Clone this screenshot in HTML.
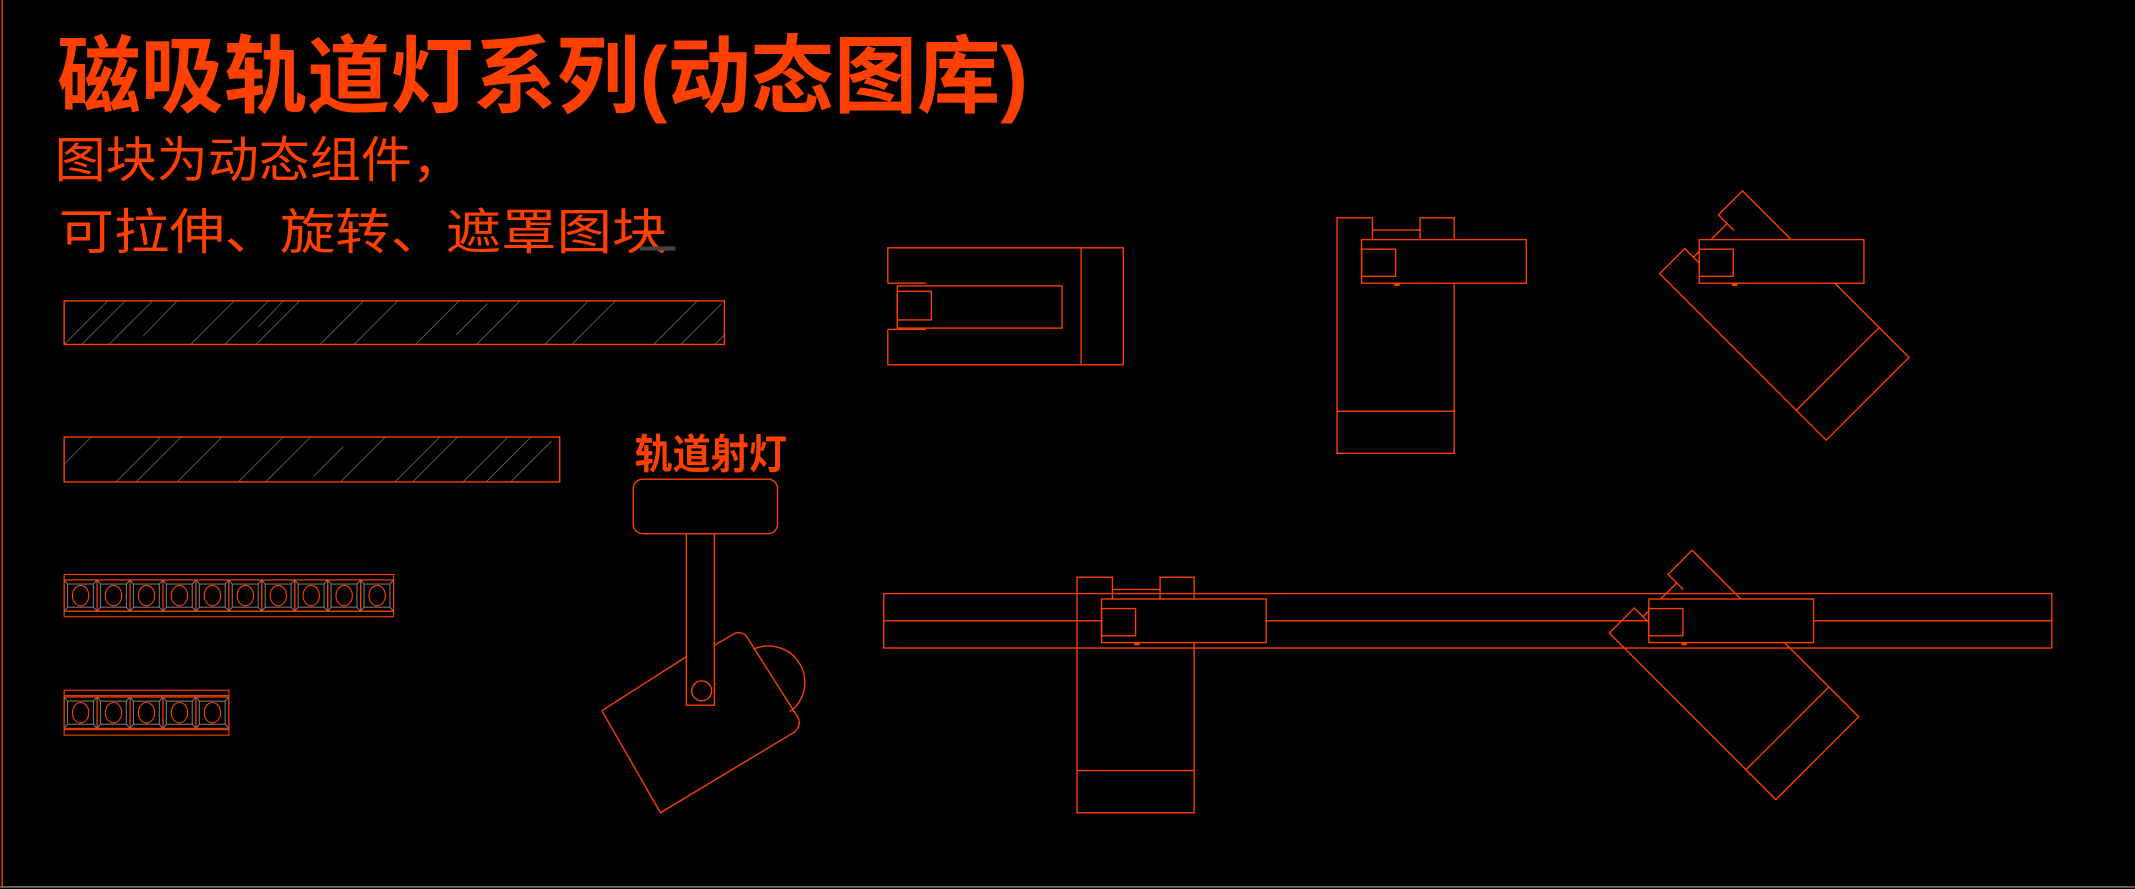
<!DOCTYPE html>
<html><head><meta charset="utf-8"><style>
html,body{margin:0;padding:0;background:#000;}
svg{display:block;}
text{font-family:"Liberation Sans","Noto Sans CJK SC","WenQuanYi Zen Hei",sans-serif;fill:#ff4000;}
</style></head><body>
<svg width="2135" height="889" viewBox="0 0 1568 653" xmlns="http://www.w3.org/2000/svg">
<defs>
<g id="vlight" fill="none" stroke="#ff4000" stroke-width="1">
  <path d="M982,333 V160 H1008 V169 H1043 V160 H1068 V333 Z"/>
  <line x1="982" y1="302" x2="1068" y2="302"/>
  <line x1="1008" y1="169" x2="1008" y2="176"/>
  <line x1="1043" y1="169" x2="1043" y2="176"/>
</g>
<g id="body" fill="#000" stroke="#ff4000" stroke-width="1">
  <rect x="1000" y="176" width="121" height="32"/>
  <rect x="1000" y="183" width="25" height="20" fill="none"/>
  <rect x="1024" y="208" width="4" height="2" fill="#ff4000" stroke="none"/>
</g>
</defs>
<rect width="1568" height="653" fill="#000"/>
<line x1="1.5" y1="0" x2="1.5" y2="652" stroke="#ff4000" stroke-width="1"/>
<line x1="0" y1="651.5" x2="1568" y2="651.5" stroke="#888" stroke-width="1"/>

<text x="42" y="78" font-size="62" font-weight="bold" textLength="713" lengthAdjust="spacingAndGlyphs">磁吸轨道灯系列(动态图库)</text>
<text x="40" y="130" font-size="36" textLength="300" lengthAdjust="spacingAndGlyphs">图块为动态组件，</text>
<text x="43" y="183" font-size="36" textLength="447" lengthAdjust="spacingAndGlyphs">可拉伸、旋转、遮罩图块</text>
<rect x="470" y="181" width="26" height="3" fill="#444"/>

<!-- hatched bars -->
<g stroke="#666" stroke-width="0.6">
  <line x1="47" y1="253" x2="79" y2="221"/><line x1="60" y1="253" x2="92" y2="221"/>
  <line x1="80" y1="253" x2="112" y2="221"/><line x1="105" y1="247" x2="130" y2="221"/>
  <line x1="140" y1="253" x2="172" y2="221"/><line x1="165" y1="253" x2="197" y2="221"/>
  <line x1="190" y1="240" x2="208" y2="221"/><line x1="188" y1="253" x2="220" y2="221"/>
  <line x1="235" y1="253" x2="267" y2="221"/><line x1="260" y1="253" x2="292" y2="221"/>
  <line x1="305" y1="253" x2="337" y2="221"/><line x1="335" y1="246" x2="358" y2="223"/>
  <line x1="350" y1="253" x2="382" y2="221"/><line x1="400" y1="253" x2="432" y2="221"/>
  <line x1="420" y1="253" x2="452" y2="221"/><line x1="480" y1="253" x2="512" y2="221"/>
  <line x1="500" y1="253" x2="530" y2="223"/><line x1="525" y1="253" x2="532" y2="246"/>
  <line x1="47" y1="341" x2="67" y2="321"/><line x1="85" y1="354" x2="118" y2="321"/>
  <line x1="100" y1="354" x2="133" y2="321"/><line x1="130" y1="354" x2="163" y2="321"/>
  <line x1="175" y1="354" x2="208" y2="321"/><line x1="195" y1="354" x2="228" y2="321"/>
  <line x1="230" y1="350" x2="252" y2="328"/><line x1="250" y1="354" x2="283" y2="321"/>
  <line x1="290" y1="354" x2="323" y2="321"/><line x1="303" y1="354" x2="336" y2="321"/>
  <line x1="340" y1="354" x2="373" y2="321"/><line x1="357" y1="354" x2="390" y2="321"/>
  <line x1="375" y1="354" x2="405" y2="324"/>
</g>
<rect x="47" y="221" width="485" height="32" fill="none" stroke="#ff4000"/>
<rect x="47" y="321" width="364" height="33" fill="none" stroke="#ff4000"/>

<!-- LED strips -->
<g fill="none" stroke-width="0.8">
  <rect x="47" y="422" width="242" height="31" stroke="#ff4000"/>
  <line x1="47" y1="426" x2="289" y2="426" stroke="#ff4000"/>
  <line x1="47" y1="449" x2="289" y2="449" stroke="#ff4000"/>
  <g id="cell">
    <rect x="47" y="426" width="24.2" height="23" stroke="#ff4000"/>
    <rect x="49.5" y="429" width="19" height="17" stroke="#777"/>
    <line x1="47" y1="426" x2="49.5" y2="429" stroke="#777"/><line x1="71.2" y1="426" x2="68.5" y2="429" stroke="#777"/>
    <line x1="47" y1="449" x2="49.5" y2="446" stroke="#777"/><line x1="71.2" y1="449" x2="68.5" y2="446" stroke="#777"/>
    <ellipse cx="59.1" cy="437.5" rx="6" ry="7.5" stroke="#ff4000"/>
  </g>
  <use href="#cell" x="24.2"/><use href="#cell" x="48.4"/><use href="#cell" x="72.6"/><use href="#cell" x="96.8"/>
  <use href="#cell" x="121"/><use href="#cell" x="145.2"/><use href="#cell" x="169.4"/><use href="#cell" x="193.6"/><use href="#cell" x="217.8"/>
  <rect x="47" y="507" width="121" height="33" stroke="#ff4000"/>
  <line x1="47" y1="511" x2="168" y2="511" stroke="#ff4000"/>
  <line x1="47" y1="536" x2="168" y2="536" stroke="#ff4000"/>
  <use href="#cell" y="86"/><use href="#cell" x="24.2" y="86"/><use href="#cell" x="48.4" y="86"/><use href="#cell" x="72.6" y="86"/><use href="#cell" x="96.8" y="86"/>
</g>

<!-- spotlight -->
<text x="466" y="344" font-size="30" font-weight="bold" textLength="112" lengthAdjust="spacingAndGlyphs">轨道射灯</text>
<g fill="none" stroke="#ff4000" stroke-width="1">
  <rect x="465" y="352" width="106" height="40" rx="7"/>
  <path d="M442,522 L485,597 L583,538 Q589,533 586,527 L548,467 Q545,464 540,465 L524.6,474 M503.8,482.5 L442,522"/>
  <path d="M553.3,476.9 A26.7,26.7 0 0 1 580.2,522.7"/>
  <rect x="504" y="392" width="20.6" height="126"/>
  <circle cx="515.3" cy="507.5" r="7.3"/>
</g>

<!-- group 1 -->
<g fill="none" stroke="#ff4000" stroke-width="1">
  <path d="M652,208 L652,182 L825,182 L825,268 L652,268 L652,242"/>
  <line x1="652" y1="208" x2="680" y2="208"/><line x1="652" y1="242" x2="680" y2="242"/>
  <line x1="794" y1="182" x2="794" y2="268"/>
  <rect x="659" y="210" width="121" height="31"/>
  <rect x="659" y="214" width="25" height="21"/>
</g>

<!-- group 2 -->
<use href="#vlight"/>
<use href="#body"/>
<!-- group 3 -->
<g transform="translate(1219,201) rotate(-45) translate(-982,-160)"><use href="#vlight"/></g>
<use href="#body" x="248"/>

<!-- rail -->
<g fill="none" stroke="#ff4000" stroke-width="1">
  <rect x="649" y="436" width="858" height="40"/>
  <line x1="649" y1="456" x2="1507" y2="456"/>
</g>
<use href="#vlight" x="-191" y="264"/>
<use href="#body" x="-191" y="264"/>
<g transform="translate(-37,264)"><g transform="translate(1219,201) rotate(-45) translate(-982,-160)"><use href="#vlight"/></g></g>
<use href="#body" x="211" y="264"/>
</svg>
</body></html>
